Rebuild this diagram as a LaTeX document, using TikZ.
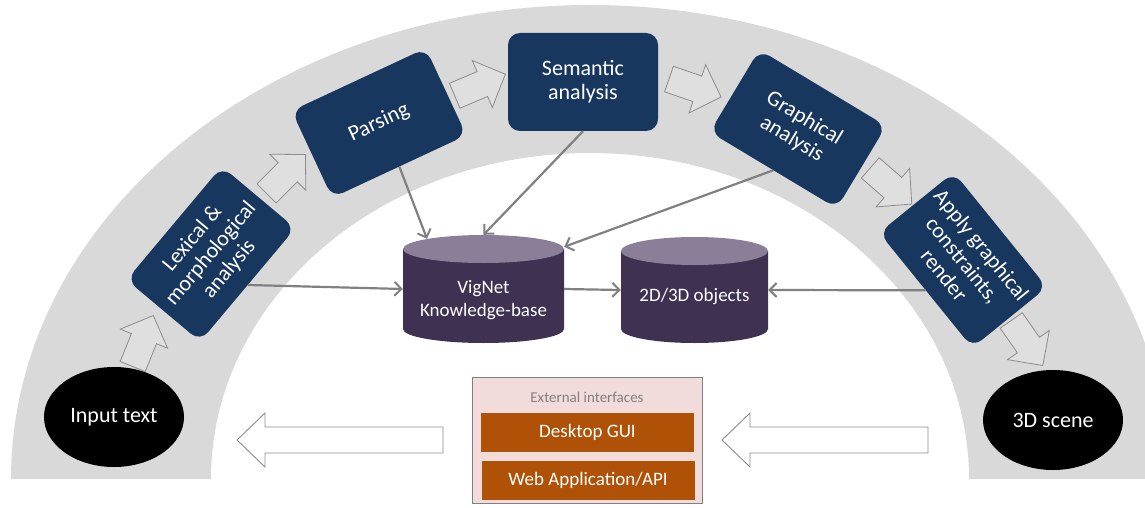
\documentclass[tikz,border=0pt]{standalone}
\usepackage{fontspec}
\setmainfont{Carlito}
\usetikzlibrary{shapes.geometric,arrows.meta,calc}

\definecolor{band}{HTML}{D9D9D9}
\definecolor{stage}{HTML}{17375E}
\definecolor{dbbody}{HTML}{3F3151}
\definecolor{dbtop}{HTML}{8B7E98}
\definecolor{extfill}{HTML}{F2DCDB}
\definecolor{uifill}{HTML}{AF5208}
\definecolor{linkgray}{HTML}{808080}
\definecolor{edgegray}{HTML}{8C8C8C}

\tikzset{
  stagebox/.style={fill=stage, rounded corners=12pt, minimum width=148pt,
    minimum height=96pt, text=white, align=center, inner sep=0pt,
    font=\fontsize{22}{24}\selectfont},
  terminal/.style={ellipse, fill=black, minimum width=140pt, minimum height=100pt,
    text=white, inner sep=0pt, font=\fontsize{22}{26}\selectfont},
  dbnode/.style={rectangle, inner sep=0pt},
  dblabel/.style={text=white, align=center, font=\fontsize{19}{23}\selectfont},
  uibox/.style={fill=uifill, text=white, inner sep=0pt, minimum width=213pt,
    minimum height=39pt, font=\fontsize{19}{22}\selectfont},
  link/.style={draw=linkgray, line width=2.2pt,
    -{Straight Barb[length=7pt,width=14pt,line width=2pt]}},
  flowstyle/.style={draw=edgegray, fill=band!85!white, line width=0.8pt, line join=miter},
  bigstyle/.style={draw=edgegray, fill=white, line width=0.9pt, line join=miter},
  pics/flowarrow/.style={code={
    \draw[flowstyle] (-27.5,-13.5) -- (2.5,-13.5) -- (2.5,-25.5) -- (27.5,0)
      -- (2.5,25.5) -- (2.5,13.5) -- (-27.5,13.5) -- cycle;
  }},
}

\begin{document}
\begin{tikzpicture}[x=1pt,y=-1pt]
\useasboundingbox (0,0) rectangle (1145,508);

% the grey half-ring carrying the pipeline
\begin{scope}
  \clip (0,0) rectangle (1145,508);
  \fill[band] (11,479) arc[start angle=180, end angle=360, x radius=579, y radius=474]
    -- (969,479) arc[start angle=0, end angle=-180, x radius=379, y radius=326] -- cycle;
\end{scope}

% start and end of the pipeline
\node[terminal] (in) at (114,417) {Input text};
\node[terminal] (out) at (1053,420) {3D scene};

% processing stages
\node[stagebox, rotate=50] (lex) at (211,254) {Lexical \&\\morphological\\analysis};
\node[stagebox, rotate=25] (par) at (379,123) {Parsing};
\node[stagebox, minimum width=150pt, minimum height=98pt] (sem) at (583,82) {Semantic\\analysis};
\node[stagebox, rotate=-31] (gra) at (798,129) {Graphical\\analysis};
\node[stagebox, rotate=-51] (app) at (963,260) {Apply graphical\\constraints,\\render};

% block arrows between consecutive stages
\pic[rotate=68]  at (143,341) {flowarrow};
\pic[rotate=45]  at (286,174) {flowarrow};
\pic[rotate=23]  at (480,85)  {flowarrow};
\pic[rotate=-19] at (695,88)  {flowarrow};
\pic[rotate=-41] at (891,186) {flowarrow};
\pic[rotate=-55] at (1027,343) {flowarrow};

% knowledge base cylinder
\fill[dbbody] (403,249) -- (403,329) arc[start angle=180, end angle=0, x radius=80.5, y radius=14]
  -- (564,249) -- cycle;
\fill[dbtop] (483.5,249) ellipse[x radius=80.5, y radius=14];
\node[dbnode, minimum width=161pt, minimum height=108pt] (kb) at (483.5,289) {};
\node[dblabel] (kbtext) at (483.5,300) {VigNet\\Knowledge-base};

% object library cylinder
\fill[dbbody] (621,251) -- (621,329) arc[start angle=180, end angle=0, x radius=73.5, y radius=14]
  -- (768,251) -- cycle;
\fill[dbtop] (694.5,251) ellipse[x radius=73.5, y radius=14];
\node[dbnode, minimum width=147pt, minimum height=106pt] (obj) at (694.5,290) {};
\node[dblabel] (objtext) at (694.5,297) {2D/3D objects};

% data flow into the stores
\draw[link] (lex.south) -- (kb.west);
\draw[link] (par.south) -- ($(kb.north west)!0.15!(kb.north east)+(0,4)$);
\draw[link] (sem.south) -- (kb.north);
\draw[link] (gra.south) -- ($(kb.north east)+(0,12)$);
\draw[link] (kb.east) -- (obj.west);
\draw[link] (app.south) -- (obj.east);

% external interfaces
\node[draw=linkgray, fill=extfill, line width=0.8pt, minimum width=230pt,
  minimum height=126pt, inner sep=0pt] (ext) at (587,440) {};
\node[text=linkgray, font=\fontsize{15}{18}\selectfont] (exttitle) at (587,397) {External interfaces};
\node[uibox] (gui) at (587.5,432.5) {Desktop GUI};
\node[uibox] (web) at (588,480) {Web Application/API};

% large hollow arrows on both sides of the interfaces
\draw[bigstyle] (237,440) -- (265,413) -- (265,427) -- (443,427) -- (443,453)
  -- (265,453) -- (265,467) -- cycle;
\draw[bigstyle] (722,440) -- (750,413) -- (750,427) -- (928,427) -- (928,453)
  -- (750,453) -- (750,467) -- cycle;
\end{tikzpicture}
\end{document}
